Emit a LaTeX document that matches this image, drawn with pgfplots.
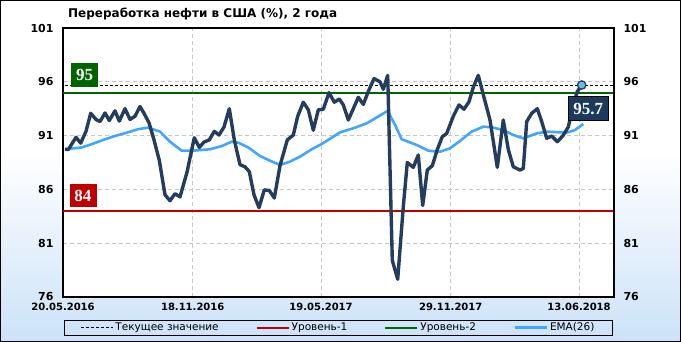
\documentclass[border=0pt]{standalone}
\usepackage{pgfplots}
\pgfplotsset{compat=1.18}
\usepackage{fontspec}
\setmainfont{DejaVu Sans}
\newfontfamily\boxfont{Liberation Serif}
\definecolor{mainc}{RGB}{36,60,94}
\definecolor{emac}{RGB}{66,166,255}
\definecolor{lvlred}{RGB}{192,0,0}
\definecolor{lvlgreen}{RGB}{0,100,0}
\definecolor{bgblue}{RGB}{204,226,248}
\definecolor{boxnavy}{RGB}{27,58,94}
\definecolor{markc}{RGB}{100,190,225}
\begin{document}
\begin{tikzpicture}[x=1pt,y=1pt]
\fill[white] (0,0) rectangle (681,342);
\shade[top color=white, bottom color=bgblue] (0,0) rectangle (681,190);
\draw[black, line width=1pt] (0.5,0.5) rectangle (680.5,341.5);
\node[anchor=west, font=\bfseries\fontsize{12}{14}\selectfont, inner sep=0pt] at (68,328) {Переработка нефти в США (\%), 2 года};
\begin{axis}[
  at={(63pt,45pt)}, anchor=south west, scale only axis,
  width=551pt, height=269pt,
  xmin=0, xmax=551, ymin=76, ymax=101,
  axis background/.style={fill=white},
  axis line style={black, line width=1.2pt},
  ytick={76,81,86,91,96,101},
  xtick={0,129.7,258,387.7,516},
  xticklabels={20.05.2016,18.11.2016,19.05.2017,29.11.2017,13.06.2018},
  major tick length=0pt,
  grid=major,
  major grid style={gray!45, dash pattern=on 4pt off 3pt, line width=0.6pt},
  /pgf/number format/assume math mode=true,
  yticklabel style={font=\bfseries\fontsize{11}{12}\selectfont, xshift=-6pt},
  xticklabel style={font=\bfseries\fontsize{10}{11}\selectfont, yshift=-3pt},
  legend style={at={(0.5,-0.086)}, anchor=north, legend columns=4, draw=black, fill=none,
    font=\fontsize{10.5}{11}\selectfont, inner ysep=0.5pt, inner xsep=16pt,
    /tikz/every even column/.append style={column sep=35pt}},
  legend image code/.code={\draw[#1] (0pt,0pt) -- (32pt,0pt);},
]
% levels
\addplot[lvlred, line width=2pt, forget plot] coordinates {(0,84) (551,84)};
\addplot[lvlgreen, line width=2pt, forget plot] coordinates {(0,95) (551,95)};
\addplot[black, line width=0.9pt, dash pattern=on 3pt off 2pt, forget plot] coordinates {(2,95.7) (551,95.7)};
% EMA(26)
\addplot[emac, line width=2.6pt, forget plot] coordinates {
(2,89.73) (18.7,89.9) (28.7,90.2) (40.3,90.6) (52,90.96) (63.7,91.27) (75.3,91.6) (85.3,91.74)
(97,91.37) (107,90.43) (118.7,89.6) (130.3,89.6) (147,89.73) (158.7,90.03) (168.7,90.43)
(175.3,90.34) (185.3,89.9) (197,89.1) (207,88.67) (217,88.27) (227,88.58) (237,89.04)
(248.7,89.73) (258.7,90.22) (270.3,90.9) (277,91.3) (290.3,91.68) (303.7,92.14) (310.3,92.5)
(324.7,93.3) (332,91.99) (338.7,90.66) (353.7,90.13) (365.3,89.6) (377,89.5) (387,89.82)
(397,90.5) (408.7,91.37) (420.3,91.83) (428.7,91.77) (440.3,91.52) (450.3,91.05) (460.3,90.75)
(473.7,91.2) (483.7,91.37) (503.7,91.27) (512,91.52) (520.3,92.08)};
% main series
\addplot[mainc, line width=3.4pt, line join=round, forget plot] coordinates {
(2,89.73) (5.3,89.7) (13,90.84) (17.7,90.3) (23,91.4) (27.7,93.07) (33,92.5) (37,92.3)
(42,93.1) (46.3,92.4) (52,93.3) (56.3,92.35) (62,93.5) (67,92.5) (72,92.8) (77,93.7)
(81,93.07) (86,92.2) (91,90.6) (96.3,88.7) (102,85.5) (107,84.95) (112,85.6) (117,85.3)
(124,87.6) (131.3,90.8) (136.3,89.9) (141,90.4) (146.3,90.6) (151.3,91.4) (156,91.05)
(161,91.8) (166.3,93.5) (171.3,90.6) (177,88.3) (182,88.1) (186.3,87.65) (191,85.5)
(196,84.3) (201.3,85.95) (206.3,85.9) (211.3,85.2) (217,88.2) (224.3,90.6) (230.3,91.05)
(234.7,92.8) (240.3,94.1) (245.3,93.4) (250.3,91.5) (255.3,93.4) (260.3,93.45) (266,94.99)
(271.3,94.1) (276.3,94.4) (280.3,93.85) (285.3,92.45) (290.3,93.5) (295.3,94.56) (300.3,93.9)
(305.3,95.1) (311,96.3) (317,96.0) (320.3,95.3) (324.7,96.6) (329.3,79.4) (334.7,77.65)
(340.3,84.4) (344.3,88.5) (350.3,88.05) (355.3,89.2) (359.7,84.5) (364.3,87.8) (369.3,88.2)
(374.3,89.7) (379.3,90.9) (383.7,91.2) (390.3,92.8) (396,93.85) (401,93.45) (406,94.15)
(410.3,95.5) (415.3,96.6) (420.3,94.8) (427,92.45) (434.3,88.05) (440.3,92.45) (445.3,89.7)
(450.3,88.1) (457,87.8) (460.3,87.95) (463.7,92.3) (468.7,93.07) (474.3,93.5) (478.7,92.3)
(483.7,90.75) (488.7,90.96) (494.3,90.43) (499.7,90.96) (505.3,91.8) (510.3,93.85)
(514.3,95.1) (518.7,95.7)};
\addplot[only marks, mark=*, mark size=4.2pt, mark options={fill=markc, draw=mainc, line width=1.3pt}, forget plot] coordinates {(518.7,95.7)};
% boxes
\node[fill=lvlgreen, text=white, font=\boxfont\bfseries\fontsize{17}{17}\selectfont, inner xsep=5pt, inner ysep=0pt, minimum height=24pt] at (axis cs:21.5,96.66) {95};
\node[fill=lvlred, text=white, font=\boxfont\bfseries\fontsize{17}{17}\selectfont, inner xsep=5pt, inner ysep=0pt, minimum height=23pt] at (axis cs:20,85.43) {84};
\node[fill=boxnavy, draw=black, line width=0.8pt, text=white, font=\boxfont\bfseries\fontsize{17}{17}\selectfont, inner xsep=5pt, inner ysep=0pt, minimum height=24pt] at (axis cs:525.3,93.5) {95.7};
% legend
\addlegendimage{black, line width=0.9pt, dash pattern=on 3pt off 2pt}
\addlegendentry{Текущее значение}
\addlegendimage{lvlred, line width=2pt}
\addlegendentry{Уровень-1}
\addlegendimage{lvlgreen, line width=2pt}
\addlegendentry{Уровень-2}
\addlegendimage{emac, line width=3pt}
\addlegendentry{EMA(26)}
\end{axis}
\begin{axis}[
  at={(63pt,45pt)}, anchor=south west, scale only axis,
  width=551pt, height=269pt,
  xmin=0, xmax=551, ymin=76, ymax=101,
  hide x axis, axis y line*=right,
  axis line style={black, line width=1.2pt},
  ytick={76,81,86,91,96,101},
  major tick length=0pt,
  /pgf/number format/assume math mode=true,
  yticklabel style={font=\bfseries\fontsize{11}{12}\selectfont, xshift=6pt},
]
\end{axis}
\end{tikzpicture}
\end{document}
